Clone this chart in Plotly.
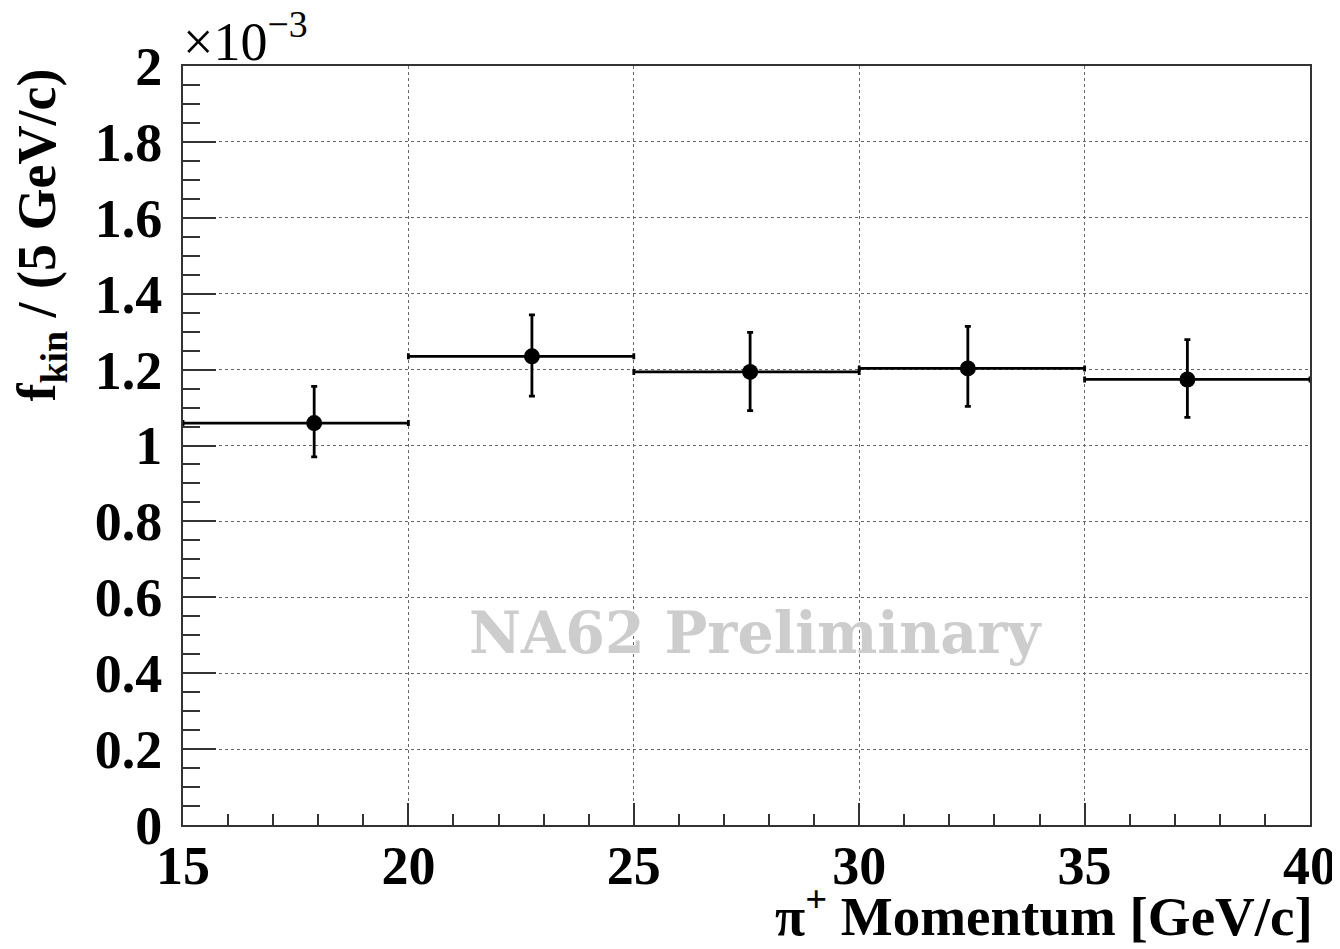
import plotly.graph_objects as go

# Data (values in units of 1e-3)
momentum = [17.91, 22.74, 27.58, 32.41, 37.28]
f_kin = [1.059, 1.235, 1.194, 1.203, 1.174]
err_up = [0.097, 0.109, 0.104, 0.111, 0.105]
err_down = [0.089, 0.105, 0.102, 0.100, 0.100]
bin_low = [15, 20, 25, 30, 35]
bin_high = [20, 25, 30, 35, 40]
y_tickvals = [0, 0.2, 0.4, 0.6, 0.8, 1.0, 1.2, 1.4, 1.6, 1.8, 2.0]
y_ticktext = ["0", "0.2", "0.4", "0.6", "0.8", "1", "1.2", "1.4", "1.6", "1.8", "2"]

x_plus = [h - x for h, x in zip(bin_high, momentum)]
x_minus = [x - l for l, x in zip(bin_low, momentum)]

FONT = "Liberation Serif"

fig = go.Figure()
fig.add_trace(go.Scatter(
    x=momentum, y=f_kin, mode="markers",
    marker=dict(color="black", size=16, symbol="circle"),
    error_y=dict(type="data", symmetric=False, array=err_up, arrayminus=err_down,
                 color="black", thickness=2.8, width=3),
    error_x=dict(type="data", symmetric=False, array=x_plus, arrayminus=x_minus,
                 color="black", thickness=2.8, width=3),
    showlegend=False,
))

axis_common = dict(
    showline=True, linecolor="#333", linewidth=2, mirror=True,
    ticks="inside", tickcolor="#333", tickwidth=1.5,
    showgrid=True, gridcolor="#666", griddash="dot", gridwidth=1,
    zeroline=False, automargin=False,
    tickfont=dict(family=FONT, size=54, color="black", weight="bold"),
)

fig.update_xaxes(
    range=[15, 40], tickmode="linear", tick0=15, dtick=5, ticklen=22,
    minor=dict(dtick=1, ticklen=11, tickcolor="#333", tickwidth=1.5, ticks="inside", showgrid=False),
    ticklabelstandoff=-8,
    **axis_common,
)
fig.update_yaxes(
    range=[0, 2], tickmode="array", tickvals=y_tickvals, ticktext=y_ticktext, ticklen=33,
    minor=dict(dtick=0.05, ticklen=17, tickcolor="#333", tickwidth=1.5, ticks="inside", showgrid=False),
    ticklabelstandoff=8,
    **axis_common,
)

annotations = [
    dict(text="π<sup>+</sup> Momentum [GeV/c]", xref="paper", yref="paper",
         x=1.004, y=-0.163, xanchor="right", yanchor="bottom", showarrow=False,
         font=dict(family=FONT, size=55, color="black", weight="bold")),
    dict(text="f<sub>kin</sub> / (5 GeV/c)", xref="paper", yref="paper",
         x=-0.126, y=1.0, xanchor="center", yanchor="top", textangle=-90, showarrow=False,
         font=dict(family=FONT, size=54, color="black", weight="bold")),
    dict(text="×10<sup>−3</sup>", xref="paper", yref="paper",
         x=-0.002, y=0.99, xanchor="left", yanchor="bottom", showarrow=False,
         font=dict(family=FONT, size=54, color="black")),
    dict(text="NA62 Preliminary", xref="paper", yref="paper",
         x=0.508, y=0.254, xanchor="center", yanchor="middle", showarrow=False,
         font=dict(family="DejaVu Serif", size=57, color="#cdcdcd", weight="bold")),
]

# page body adds an 8px margin, so the figure is 16px smaller than the window
fig.update_layout(
    width=1332, height=941,
    margin=dict(l=175, r=30, t=58, b=124),
    paper_bgcolor="white", plot_bgcolor="white",
    annotations=annotations,
)

fig.write_html("out.html")
